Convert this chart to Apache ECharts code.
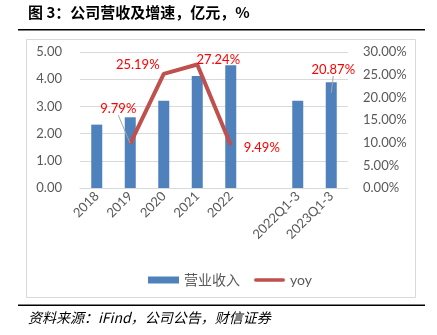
<!DOCTYPE html>
<html><head><meta charset="utf-8">
<script src="https://cdn.jsdelivr.net/npm/echarts@6/dist/echarts.min.js"></script>
<style>html,body{margin:0;padding:0;background:#fff;}#c{width:437px;height:335px;}</style>
</head><body><div id="c"></div>
<script>
const categories = ['2018','2019','2020','2021','2022','','2022Q1-3','2023Q1-3'];
const revenue = [2.33, 2.60, 3.21, 4.12, 4.51, null, 3.21, 3.89];
const yoyLine = [null, 9.79, 25.19, 27.24, 9.49, null, null, null];
const yoyLeader = [null, 9.79, null, null, null, null, null, 20.87];
const leftTicks = [0, 5, 1];
const rightTicks = [0, 30, 5];
const titleText = '图 3：公司营收及增速，亿元，%';
const sourceText = '资料来源：iFind，公司公告，财信证券';

const chart = echarts.init(document.getElementById('c'), null, {renderer: 'canvas'});
const gray = '#595959';
const font = 'Lato, "Noto Sans CJK SC", sans-serif';
const lineOffsets = {2: [-26, 3], 3: [21, 7], 4: [31, 15]};
const leaderOffsets = {1: [-12, -23], 7: [2, -12]};

chart.setOption({
  animation: false,
  backgroundColor: '#fff',
  graphic: [
    {type: 'text', left: 28, top: 5, style: {text: titleText, font: 'bold 15px "Noto Sans CJK SC", sans-serif', fill: '#000'}},
    {type: 'rect', shape: {x: 18, y: 29, width: 407, height: 1.5}, style: {fill: '#000'}},
    {type: 'rect', shape: {x: 26.5, y: 39.5, width: 389, height: 258}, style: {fill: 'none', stroke: '#D9D9D9', lineWidth: 1}, z: -1},
    {type: 'rect', shape: {x: 18, y: 304.5, width: 407, height: 1.5}, style: {fill: '#000'}},
    {type: 'text', left: 28, top: 311, style: {text: sourceText, font: 'italic 14px "Noto Sans CJK SC", sans-serif', fill: '#000'}}
  ],
  grid: {left: 80, right: 89, top: 52, bottom: 147},
  legend: {
    left: 143, top: 268, itemWidth: 31, itemHeight: 7, itemGap: 14,
    textStyle: {color: gray, fontSize: 14, fontFamily: font},
    data: [
      {name: '营业收入', icon: 'rect'},
      {name: 'yoy', icon: 'path://M2,0 L33,0 A2,2 0 0 1 33,4 L2,4 A2,2 0 0 1 2,0 Z', itemStyle: {color: '#C0504D'}}
    ]
  },
  xAxis: {
    type: 'category', data: categories,
    axisLine: {lineStyle: {color: '#D9D9D9'}}, axisTick: {show: false},
    axisLabel: {rotate: 45, color: gray, fontSize: 13, fontFamily: font, margin: 6, interval: 0}
  },
  yAxis: [
    {type: 'value', min: leftTicks[0], max: leftTicks[1], interval: leftTicks[2],
     axisLabel: {color: gray, fontSize: 13, fontFamily: font, margin: 18, formatter: v => v.toFixed(2)},
     splitLine: {lineStyle: {color: '#D9D9D9'}}, axisLine: {show: false}, axisTick: {show: false}},
    {type: 'value', min: rightTicks[0], max: rightTicks[1], interval: rightTicks[2],
     axisLabel: {color: gray, fontSize: 13, fontFamily: font, margin: 15, formatter: v => v.toFixed(2) + '%'},
     splitLine: {show: false}, axisLine: {show: false}, axisTick: {show: false}}
  ],
  series: [
    {name: '营业收入', type: 'bar', data: revenue, barWidth: 11, itemStyle: {color: '#4F81BD'}},
    {name: 'yoy', type: 'line', yAxisIndex: 1, data: yoyLine, connectNulls: false,
     symbol: 'circle', symbolSize: 1, showSymbol: true,
     lineStyle: {color: '#C0504D', width: 4}, itemStyle: {color: '#C0504D'},
     label: {show: true, position: 'top', color: '#FF0000', fontSize: 13, fontFamily: font,
       formatter: p => (p.dataIndex in lineOffsets) ? p.value.toFixed(2) + '%' : ''},
     labelLayout: p => { const o = lineOffsets[p.dataIndex]; return o ? {dx: o[0], dy: o[1]} : {}; }
    },
    {name: 'yoyLeader', type: 'line', yAxisIndex: 1, data: yoyLeader, connectNulls: false,
     symbol: 'circle', symbolSize: 1, showSymbol: true, z: 5,
     lineStyle: {color: 'transparent', width: 0}, itemStyle: {color: 'transparent'},
     label: {show: true, position: 'top', color: '#FF0000', opacity: 1, fontSize: 13, fontFamily: font,
       formatter: p => p.value.toFixed(2) + '%'},
     labelLine: {show: true, lineStyle: {color: '#A6A6A6', width: 1}},
     labelLayout: p => { const o = leaderOffsets[p.dataIndex]; return o ? {dx: o[0], dy: o[1]} : {}; }
    }
  ]
});
</script>
</body></html>
